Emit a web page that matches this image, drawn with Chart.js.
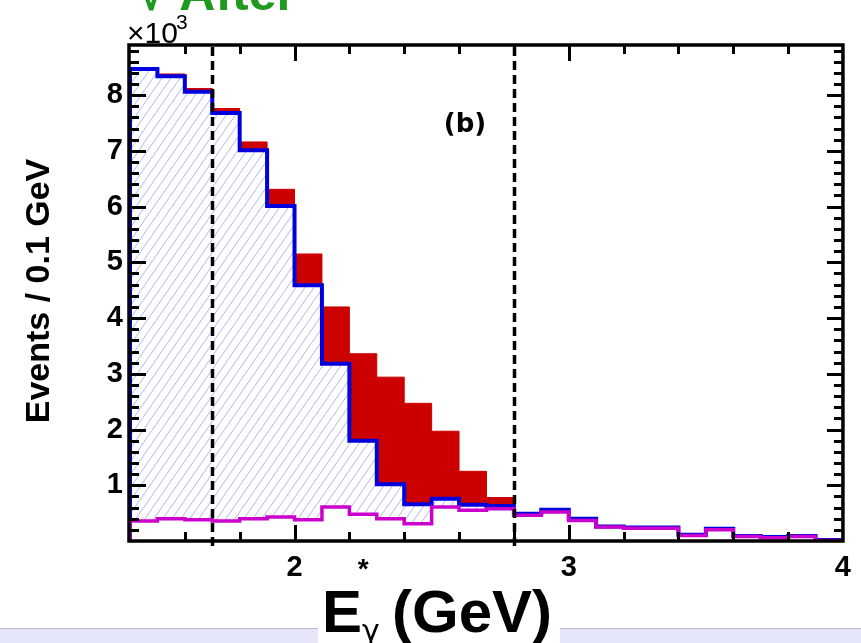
<!DOCTYPE html>
<html>
<head>
<meta charset="utf-8">
<script src="https://cdn.jsdelivr.net/npm/chart.js@4"></script>
<style>
  body { margin: 0; background: #fff; }
  #wrap { position: relative; width: 861px; height: 643px; overflow: hidden; }
  #band { position: absolute; left: 0; top: 628px; width: 861px; height: 15px; background: #e6e6fa; border-top: 1px solid #b9b9c9; }
  #gap { position: absolute; left: 318px; top: 627px; width: 242px; height: 16px; background: #fff; }
  canvas { position: absolute; left: 0; top: 0; }
</style>
</head>
<body>
<div id="wrap">
  <div id="band"></div>
  <div id="gap"></div>
  <canvas id="c" width="861" height="643"></canvas>
</div>
<script>
// E_gamma bins (GeV), 0.1 GeV wide
const binStarts = [1.4, 1.5, 1.6, 1.7, 1.8, 1.9, 2.0, 2.1, 2.2, 2.3, 2.4, 2.5, 2.6,
                   2.7, 2.8, 2.9, 3.0, 3.1, 3.2, 3.3, 3.4, 3.5, 3.6, 3.7, 3.8, 3.9];
const binWidth = 0.1;

// events / 0.1 GeV, in units of 10^3
const beforeCut = [8.47, 8.38, 8.12, 7.76, 7.16, 6.31, 5.15, 4.20, 3.36, 2.94, 2.47, 1.97, 1.25,
                   0.78, 0.49, 0.56, 0.40, 0.26, 0.24, 0.24, 0.11, 0.22, 0.09, 0.07, 0.09, 0.02];
const afterCut = [8.47, 8.34, 8.06, 7.68, 7.01, 6.01, 4.59, 3.18, 1.80, 1.02, 0.66, 0.76, 0.65,
                  0.63, 0.49, 0.56, 0.40, 0.26, 0.24, 0.24, 0.11, 0.22, 0.09, 0.07, 0.09, 0.02];
const background = [0.36, 0.40, 0.38, 0.36, 0.40, 0.43, 0.38, 0.61, 0.48, 0.40, 0.31, 0.61, 0.55,
                    0.58, 0.46, 0.52, 0.37, 0.25, 0.23, 0.23, 0.10, 0.20, 0.08, 0.06, 0.08, 0.01];

const cutLines = [1.7, 2.8];
const xTicks = [2, 3, 4];
const yTicks = [1, 2, 3, 4, 5, 6, 7, 8];
const xMin = 1.4, xMax = 4.0, yMax = 8.9;

const FONT = '"Liberation Sans", Arial, Helvetica, sans-serif';

// histogram outline as step points
function steps(vals) {
  const pts = [{ x: binStarts[0], y: 0 }];
  vals.forEach((v, i) => pts.push({ x: binStarts[i], y: v }));
  pts.push({ x: binStarts[binStarts.length - 1] + binWidth, y: vals[vals.length - 1] });
  pts.push({ x: binStarts[binStarts.length - 1] + binWidth, y: 0 });
  return pts;
}

function hatch() {
  const c = document.createElement('canvas');
  c.width = 9; c.height = 13;
  const g = c.getContext('2d');
  g.strokeStyle = 'rgba(150,150,235,0.7)';
  g.lineWidth = 1;
  [-9, 0, 9].forEach(dx => {
    g.beginPath(); g.moveTo(dx, 13); g.lineTo(dx + 9, 0); g.stroke();
  });
  return g.createPattern(c, 'repeat');
}

const decor = {
  id: 'decor',
  afterDatasetsDraw(chart) {
    const { ctx, chartArea: a, scales: { x, y } } = chart;
    const seg = (x1, y1, x2, y2) => { ctx.beginPath(); ctx.moveTo(x1, y1); ctx.lineTo(x2, y2); ctx.stroke(); };
    const px = v => Math.round(x.getPixelForValue(v)) + 0.5;
    const py = v => Math.round(y.getPixelForValue(v)) + 0.5;
    ctx.save();
    ctx.strokeStyle = '#000';

    // cut lines
    ctx.lineWidth = 3.5;
    ctx.setLineDash([9, 5]);
    cutLines.forEach(c => seg(px(c), a.top + 2, px(c), a.bottom + 6));
    ctx.setLineDash([]);

    // frame
    ctx.lineWidth = 3.5;
    ctx.strokeRect(a.left - 1, a.top, a.right - a.left + 1, a.bottom - a.top);

    // inward ticks on all four sides
    ctx.lineWidth = 3;
    for (let i = 1; i < 45; i++) {
      const len = i % 5 === 0 ? 16 : 9;
      seg(a.left, py(i * 0.2), a.left + len, py(i * 0.2));
      seg(a.right, py(i * 0.2), a.right - len, py(i * 0.2));
    }
    for (let i = 1; i < 13; i++) {
      const v = xMin + i * 0.2;
      const len = Math.abs(v - Math.round(v)) < 1e-6 ? 16 : 9;
      seg(px(v), a.bottom, px(v), a.bottom - len);
      seg(px(v), a.top, px(v), a.top + len);
    }

    ctx.fillStyle = '#000';
    // star marker under the axis
    ctx.font = 'bold 28px ' + FONT;
    ctx.textAlign = 'center';
    ctx.textBaseline = 'alphabetic';
    ctx.fillText('*', x.getPixelForValue(2.25), a.bottom + 37);

    // panel tag
    ctx.font = 'bold 26px "DejaVu Sans", sans-serif';
    ctx.fillText('(b)', 465, 132);

    // exponent
    ctx.textAlign = 'left';
    ctx.font = '30px ' + FONT;
    ctx.fillText('\u00d710', a.left - 3, 43);
    ctx.font = '21px ' + FONT;
    ctx.fillText('3', a.left + 46, 29);

    // x title
    ctx.font = 'bold 60px ' + FONT;
    ctx.fillText('E', 322, 632);
    ctx.font = '30px "DejaVu Sans", sans-serif';
    ctx.fillText('\u03b3', 362, 641);
    ctx.font = 'bold 60px ' + FONT;
    ctx.fillText('(GeV)', 392, 632);

    // y title
    ctx.save();
    ctx.translate(49, 291);
    ctx.rotate(-Math.PI / 2);
    ctx.textAlign = 'center';
    ctx.font = 'bold 34px ' + FONT;
    ctx.fillText('Events / 0.1 GeV', 0, 0);
    ctx.restore();

    // page heading, cut off at the top
    ctx.fillStyle = '#1f9a1f';
    ctx.font = 'bold 50px ' + FONT;
    ctx.fillText('\u221a After', 138, 10);
    ctx.restore();
  }
};

new Chart(document.getElementById('c'), {
  type: 'line',
  data: {
    datasets: [
      {
        label: 'before',
        data: steps(beforeCut),
        stepped: 'before',
        borderColor: '#cc0000',
        borderWidth: 1,
        backgroundColor: '#cc0000',
        fill: 1,
        pointRadius: 0,
        order: 2
      },
      {
        label: 'after',
        data: steps(afterCut),
        stepped: 'before',
        borderColor: '#0000dd',
        borderWidth: 4,
        backgroundColor: hatch(),
        fill: 2,
        pointRadius: 0,
        order: 1
      },
      {
        label: 'background',
        data: steps(background),
        stepped: 'before',
        borderColor: '#cc00cc',
        borderWidth: 3.5,
        fill: false,
        pointRadius: 0,
        order: 0
      }
    ]
  },
  options: {
    responsive: false,
    animation: false,
    devicePixelRatio: 1,
    layout: { padding: { left: 0, top: 45, right: 9, bottom: 0 } },
    plugins: { legend: { display: false }, tooltip: { enabled: false } },
    scales: {
      x: {
        type: 'linear',
        min: xMin,
        max: xMax,
        grid: { display: false, drawTicks: false },
        border: { display: false },
        afterBuildTicks: s => { s.ticks = xTicks.map(v => ({ value: v })); },
        afterFit: s => { s.height = 102; },
        ticks: {
          color: '#000',
          padding: 10,
          maxRotation: 0,
          autoSkip: false,
          font: { family: FONT, size: 29, weight: 'bold' }
        }
      },
      y: {
        min: 0,
        max: yMax,
        grid: { display: false, drawTicks: false },
        border: { display: false },
        afterBuildTicks: s => { s.ticks = yTicks.map(v => ({ value: v })); },
        afterFit: s => { s.width = 130; },
        ticks: {
          color: '#000',
          padding: 7,
          font: { family: FONT, size: 29, weight: 'bold' }
        }
      }
    }
  },
  plugins: [decor]
});
</script>
</body>
</html>
